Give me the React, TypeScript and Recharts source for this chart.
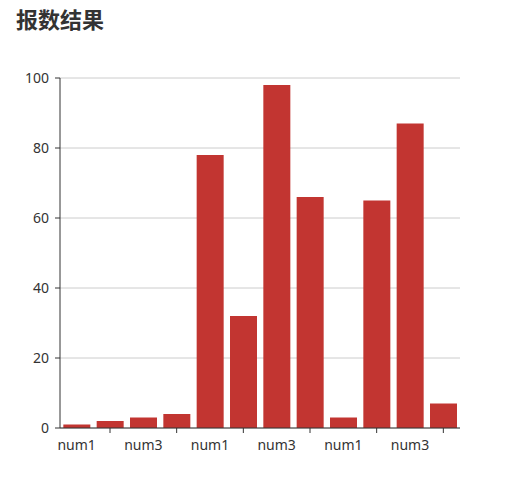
import { BarChart, Bar, XAxis, YAxis, CartesianGrid } from "recharts";

const categories = [
  "num1", "num2", "num3", "num4",
  "num1", "num2", "num3", "num4",
  "num1", "num2", "num3", "num4",
];
const values = [1, 2, 3, 4, 78, 32, 98, 66, 3, 65, 87, 7];
const yTicks = [0, 20, 40, 60, 80, 100];

const data = categories.map((name, i) => ({ name, value: values[i] }));

const FONT = "'Noto Sans', 'Noto Sans CJK SC', sans-serif";

// labels on even categories, tick marks on odd ones (like the original)
function XTick(props: any) {
  const { x, y, payload, index } = props;
  const i = index ?? payload?.index ?? 0;
  if (i % 2 === 1) {
    return <line x1={x} y1={y} x2={x} y2={y + 5} stroke="#333" />;
  }
  return (
    <text x={x} y={y + 22} textAnchor="middle" fill="#333" fontSize={14} fontFamily={FONT}>
      {payload.value}
    </text>
  );
}

export default function App() {
  return (
    <div style={{ position: "relative", width: 512, height: 462 }}>
      <div
        style={{
          position: "absolute",
          left: 8,
          top: -1,
          fontSize: 22,
          lineHeight: "22px",
          fontWeight: "bold",
          color: "#333",
          fontFamily: "'Noto Sans CJK SC', sans-serif",
        }}
      >
        报数结果
      </div>
      <BarChart
        width={512}
        height={462}
        data={data}
        margin={{ top: 70, right: 60, left: 0, bottom: 12 }}
        barCategoryGap="10%"
      >
        <CartesianGrid vertical={false} stroke="#ccc" />
        <XAxis
          dataKey="name"
          interval={0}
          height={30}
          axisLine={{ stroke: "#333" }}
          tickLine={false}
          tickSize={0}
          tickMargin={0}
          tick={<XTick />}
        />
        <YAxis
          domain={[0, 100]}
          ticks={yTicks}
          width={52}
          axisLine={{ stroke: "#333" }}
          tickLine={{ stroke: "#333" }}
          tickSize={5}
          tickMargin={6}
          tick={{ fill: "#333", fontSize: 14, fontFamily: FONT }}
        />
        <Bar dataKey="value" fill="#c23531" isAnimationActive={false} />
      </BarChart>
    </div>
  );
}
